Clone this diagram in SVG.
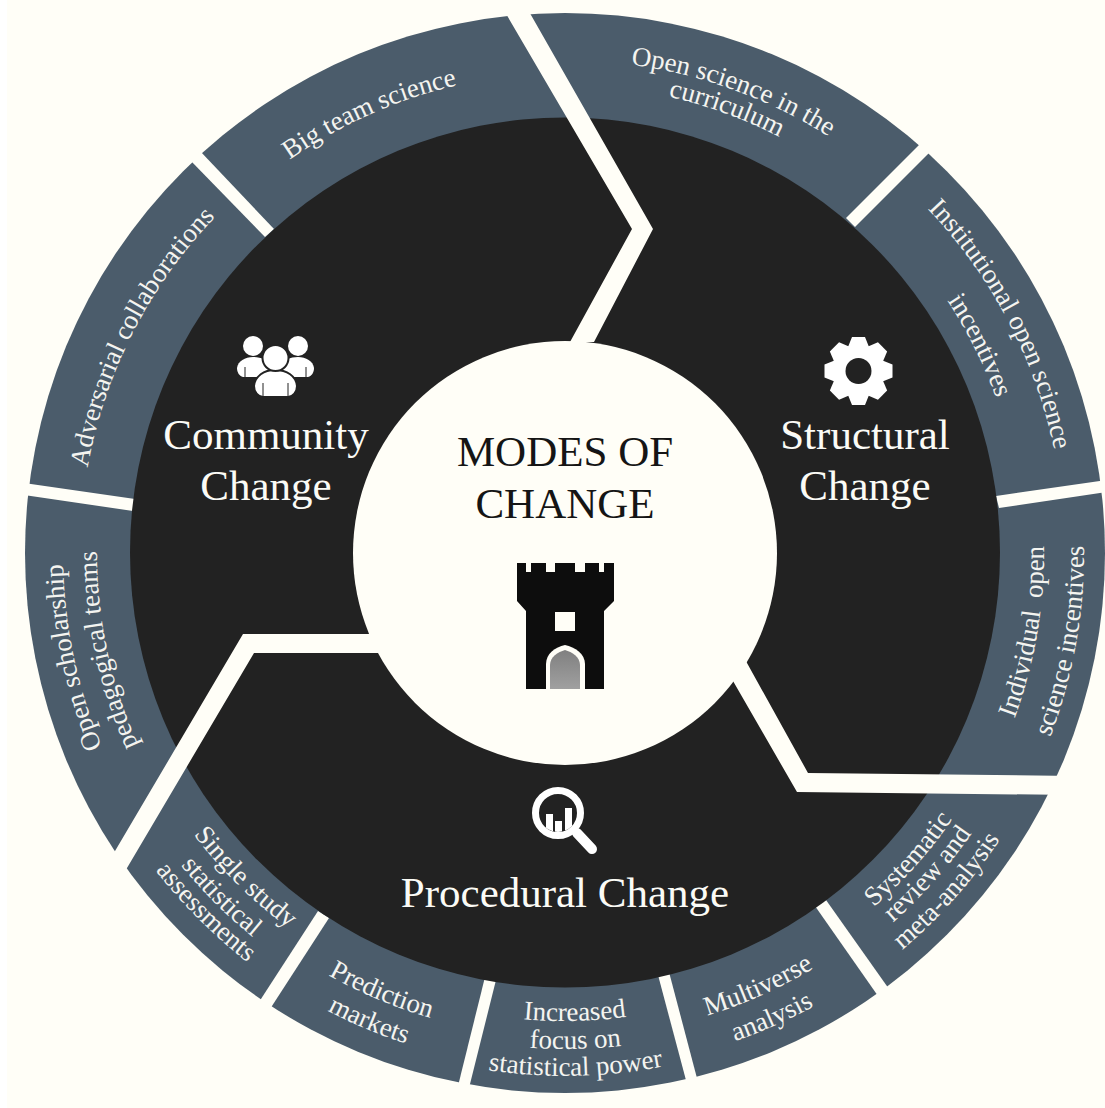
<svg xmlns="http://www.w3.org/2000/svg" width="1105" height="1108" viewBox="0 0 1105 1108">
<style>
.gap{fill:#fffef7}
.lab{font-family:"Liberation Serif","Times New Roman",serif;font-size:27px;fill:#f4f4f0;text-anchor:middle}
.big{font-family:"Liberation Serif","Times New Roman",serif;font-size:43px;fill:#fbfbf6;text-anchor:middle}
.title{fill:#151515}
</style>
<defs>
<path id="T480" d="M85 553A480 480 0 0 1 1045 553"/>
<path id="T485" d="M80 553A485 485 0 0 1 1050 553"/>
<path id="T502" d="M63 553A502 502 0 0 1 1067 553"/>
<path id="T468" d="M97 553A468 468 0 0 1 1033 553"/>
<path id="T493" d="M72 553A493 493 0 0 1 1058 553"/>
<path id="T468b" d="M97 553A468 468 0 0 1 1033 553"/>
<path id="T500" d="M65 553A500 500 0 0 1 1065 553"/>
<path id="T458" d="M107 553A458 458 0 0 1 1023 553"/>
<path id="B479" d="M86 553A479 479 0 0 0 1044 553"/>
<path id="B519" d="M46 553A519 519 0 0 0 1084 553"/>
<path id="B470" d="M95 553A470 470 0 0 0 1035 553"/>
<path id="B494" d="M71 553A494 494 0 0 0 1059 553"/>
<path id="B521" d="M44 553A521 521 0 0 0 1086 553"/>
<path id="B484" d="M81 553A484 484 0 0 0 1049 553"/>
<path id="B517" d="M48 553A517 517 0 0 0 1082 553"/>
<path id="B468" d="M97 553A468 468 0 0 0 1033 553"/>
<path id="B496" d="M69 553A496 496 0 0 0 1061 553"/>
<path id="B523" d="M42 553A523 523 0 0 0 1088 553"/>
<path id="B516" d="M49 553A516 516 0 0 0 1081 553"/>
<path id="B466" d="M99 553A466 466 0 0 0 1031 553"/>
<path id="B495b" d="M70 553A495 495 0 0 0 1060 553"/>
<path id="B518" d="M47 553A518 518 0 0 0 1083 553"/>
<linearGradient id="door" x1="0" y1="0" x2="0" y2="1"><stop offset="0" stop-color="#808080"/><stop offset="1" stop-color="#a0a0a0"/></linearGradient>
<clipPath id="lens"><circle cx="558" cy="813" r="19"/></clipPath>
<polygon id="tooth" points="-10.5,-24 -6.5,-34 6.5,-34 10.5,-24"/>
</defs>
<rect width="1105" height="1108" fill="#ffffff"/>
<rect x="7" width="1098" height="1108" fill="#fffef7"/>
<circle id="outer-ring" cx="565" cy="553" r="540" fill="#4b5c6b"/>
<g id="ring-dividers" class="gap">
<polygon points="190,160 200,151 274,229 265,237"/>
<polygon points="24,483 24,495 133,511 135,499"/>
<polygon points="921,143 930,152 855,227 846,218"/>
<polygon points="1106,480 1106,492 999,508 996,496"/>
<polygon points="815,906 826,900 889,989 878,996"/>
<polygon points="658,975 669,972 698,1082 687,1084"/>
<polygon points="485,977 496,980 469,1088 458,1086"/>
<polygon points="318,911 329,918 270,1009 259,1002"/>
</g>
<circle id="dark-disc" cx="565" cy="552.500" r="435" fill="#222222"/>
<g id="connectors" class="gap">
<polygon points="505,12 632,229 570,342 594,342 653,229 527,8"/>
<polygon points="747,663 808,773 1075,776 1075,795 797,792 733,681 700,640 730,630"/>
<polygon points="400,634 243,634 105,868 117,880 127,868 254,653 400,653"/>
</g>
<circle id="center-disc" cx="565" cy="553" r="212" fill="#fffef7"/>
<g id="center">
<text class="big title" x="565" y="466">MODES OF</text>
<text class="big title" x="565" y="518">CHANGE</text>
<path fill="#0d0d0d" d="M517 563H526V572H531V563H546V572H555V563H575V572H585V563H599V572H604V563H614V601L604 611V689H526V611L517 601Z"/>
<rect x="555" y="612" width="20" height="19" fill="#fffef7"/>
<path fill="#fffef7" d="M546 689V664C546 654 555 647 565 645C575 647 585 654 585 664V689Z"/>
<path fill="url(#door)" d="M550 689V665C550 657 558 652 565 650C572 652 580 657 580 665V689Z"/>
</g>
<g id="community">
<g fill="#ffffff" stroke="#222222" stroke-width="2">
<circle cx="253" cy="346" r="10" stroke="none"/>
<circle cx="298" cy="346" r="10" stroke="none"/>
<path stroke="none" d="M237 368C238 361 245 357 253 357C261 357 267 360 270 365V377H243C239 376 237 372 237 368Z"/>
<path stroke="none" d="M314 368C313 361 306 357 298 357C290 357 284 360 281 365V377H308C312 376 314 372 314 368Z"/>
<path d="M254 386C255 376 264 370 275 370C287 370 296 376 297 386C297 392 293 397 288 397H263C258 397 254 392 254 386Z"/>
<circle cx="275.500" cy="358" r="13"/>
<path fill="none" stroke-width="1" d="M263 383V397M288 383V397M245 367V377M306 367V377"/>
</g>
<text class="big" x="266" y="449">Community</text>
<text class="big" x="266" y="500">Change</text>
</g>
<g id="structural">
<g transform="translate(858.500 371)" fill="#ffffff">
<circle r="26.500"/>
<use href="#tooth"/>
<use href="#tooth" transform="rotate(45)"/>
<use href="#tooth" transform="rotate(90)"/>
<use href="#tooth" transform="rotate(135)"/>
<use href="#tooth" transform="rotate(180)"/>
<use href="#tooth" transform="rotate(225)"/>
<use href="#tooth" transform="rotate(270)"/>
<use href="#tooth" transform="rotate(315)"/>
<circle r="13" fill="#222222"/>
</g>
<text class="big" x="865" y="449">Structural</text>
<text class="big" x="865" y="500">Change</text>
</g>
<g id="procedural">
<circle cx="558" cy="813" r="22.500" fill="none" stroke="#ffffff" stroke-width="7"/>
<line x1="577" y1="833" x2="592" y2="849" stroke="#ffffff" stroke-width="10" stroke-linecap="round"/>
<g clip-path="url(#lens)" fill="#ffffff">
<rect x="546" y="814" width="7" height="24"/>
<rect x="555" y="821" width="7" height="18"/>
<rect x="565" y="808" width="7" height="30"/>
</g>
<text class="big" x="565" y="907">Procedural Change</text>
</g>
<g id="big-team-science"><text class="lab" transform="rotate(-24 565 553)"><textPath href="#T480" startOffset="50%">Big team science</textPath></text></g>
<g id="adversarial-collaborations"><text class="lab" transform="rotate(-63 565 553)"><textPath href="#T485" startOffset="50%">Adversarial collaborations</textPath></text></g>
<g id="open-scholarship"><text class="lab" transform="rotate(-102 565 553)"><textPath href="#T502" startOffset="50%">Open scholarship</textPath></text>
<text class="lab" transform="rotate(-102 565 553)"><textPath href="#T468" startOffset="50%">pedagogical teams</textPath></text></g>
<g id="open-science-curriculum"><text class="lab" transform="rotate(20 565 553)"><textPath href="#T493" startOffset="50%">Open science in the</textPath></text>
<text class="lab" transform="rotate(20 565 553)"><textPath href="#T468b" startOffset="50%">curriculum</textPath></text></g>
<g id="institutional-incentives"><text class="lab" transform="rotate(62.300 565 553)"><textPath href="#T500" startOffset="50%">Institutional open science</textPath></text>
<text class="lab" transform="rotate(63.400 565 553)"><textPath href="#T458" startOffset="50%">incentives</textPath></text></g>
<g id="individual-incentives"><text class="lab" word-spacing="6" transform="rotate(-80.300 565 553)"><textPath href="#B479" startOffset="50%">Individual open</textPath></text>
<text class="lab" transform="rotate(-80 565 553)"><textPath href="#B519" startOffset="50%">science incentives</textPath></text></g>
<g id="systematic-review"><text class="lab" transform="rotate(-48.300 565 553)"><textPath href="#B470" startOffset="50%">Systematic</textPath></text>
<text class="lab" transform="rotate(-48.500 565 553)"><textPath href="#B494" startOffset="50%">review and</textPath></text>
<text class="lab" transform="rotate(-48.500 565 553)"><textPath href="#B521" startOffset="50%">meta-analysis</textPath></text></g>
<g id="multiverse-analysis"><text class="lab" transform="rotate(-24 565 553)"><textPath href="#B484" startOffset="50%">Multiverse</textPath></text>
<text class="lab" transform="rotate(-24 565 553)"><textPath href="#B517" startOffset="50%">analysis</textPath></text></g>
<g id="statistical-power"><text class="lab" transform="rotate(-1.200 565 553)"><textPath href="#B468" startOffset="50%">Increased</textPath></text>
<text class="lab" transform="rotate(-1.200 565 553)"><textPath href="#B496" startOffset="50%">focus on</textPath></text>
<text class="lab" transform="rotate(-1.200 565 553)"><textPath href="#B523" startOffset="50%">statistical power</textPath></text></g>
<g id="prediction-markets"><text class="lab" transform="rotate(22.700 565 553)"><textPath href="#B484" startOffset="50%">Prediction</textPath></text>
<text class="lab" transform="rotate(22.700 565 553)"><textPath href="#B516" startOffset="50%">markets</textPath></text></g>
<g id="single-study"><text class="lab" transform="rotate(44.600 565 553)"><textPath href="#B466" startOffset="50%">Single study</textPath></text>
<text class="lab" transform="rotate(45 565 553)"><textPath href="#B495b" startOffset="50%">statistical</textPath></text>
<text class="lab" transform="rotate(45 565 553)"><textPath href="#B518" startOffset="50%">assessments</textPath></text></g>
</svg>
